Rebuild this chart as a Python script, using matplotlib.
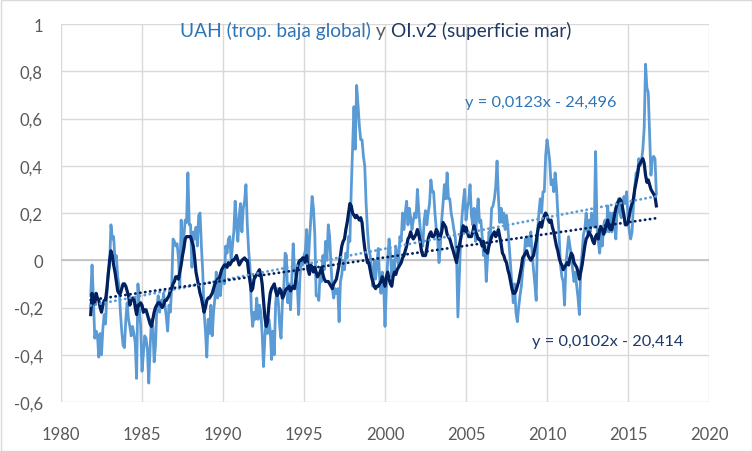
import numpy as np
import matplotlib
matplotlib.use('Agg')
import matplotlib.pyplot as plt
from matplotlib.ticker import FuncFormatter, MultipleLocator
from matplotlib.patches import Rectangle

plt.rcParams['font.family'] = ['Lato', 'DejaVu Sans']

# monthly anomalies, Nov 1981 .. Oct 2016
first_month = 1981 + 10 / 12

uah = [
    -0.15, -0.02,
    -0.16, -0.33, -0.30, -0.32, -0.41, -0.31, -0.40, -0.29, -0.23, -0.27, -0.14, -0.05,  # 1982
    -0.02, 0.15, 0.09, 0.10, 0.00, 0.02, -0.07, -0.11, -0.22, -0.30, -0.36, -0.37,  # 1983
    -0.25, -0.18, -0.25, -0.28, -0.32, -0.28, -0.31, -0.35, -0.50, -0.10, -0.20, -0.28,  # 1984
    -0.47, -0.40, -0.32, -0.33, -0.38, -0.52, -0.37, -0.25, -0.28, -0.43, -0.36, -0.20,  # 1985
    -0.15, -0.22, -0.17, -0.19, -0.14, -0.19, -0.24, -0.30, -0.19, -0.22, -0.11, 0.09,  # 1986
    0.08, 0.06, 0.07, 0.01, -0.11, 0.17, 0.02, 0.10, 0.17, 0.16, 0.37, 0.15,  # 1987
    0.15, -0.03, 0.12, 0.09, 0.14, 0.06, 0.19, 0.20, 0.06, -0.05, -0.22, -0.30,  # 1988
    -0.41, -0.25, -0.31, -0.19, -0.32, -0.22, -0.16, -0.05, -0.16, -0.09, -0.15, -0.08,  # 1989
    -0.03, -0.10, 0.06, 0.03, 0.09, 0.10, 0.00, 0.06, 0.12, 0.25, 0.15, 0.08,  # 1990
    0.19, 0.24, 0.12, 0.22, 0.25, 0.32, 0.15, 0.04, -0.03, -0.21, -0.28, -0.22,  # 1991
    -0.25, -0.16, -0.25, -0.19, -0.22, -0.31, -0.45, -0.33, -0.25, -0.31, -0.25, -0.30,  # 1992
    -0.42, -0.30, -0.40, -0.18, -0.12, -0.18, -0.28, -0.33, -0.18, -0.12, 0.03, 0.02,  # 1993
    -0.18, -0.10, -0.21, -0.08, 0.07, -0.04, -0.07, -0.10, -0.23, -0.07, -0.01, -0.02,  # 1994
    0.02, 0.04, 0.13, -0.04, 0.08, 0.17, 0.27, 0.22, 0.11, -0.15, -0.15, -0.17,  # 1995
    -0.04, -0.09, 0.02, -0.04, 0.08, 0.00, 0.15, 0.10, -0.02, -0.12, -0.16, -0.12,  # 1996
    -0.14, -0.12, -0.26, -0.09, -0.06, 0.00, -0.04, 0.03, 0.01, 0.10, 0.08, 0.30,  # 1997
    0.48, 0.65, 0.47, 0.74, 0.66, 0.57, 0.51, 0.51, 0.44, 0.40, 0.24, 0.13,  # 1998
    0.05, 0.02, -0.05, -0.11, 0.00, -0.08, -0.02, 0.05, -0.07, -0.14, -0.05, -0.10,  # 1999
    -0.28, -0.12, 0.00, 0.09, 0.03, -0.07, 0.00, -0.05, 0.06, 0.02, -0.02, 0.10,  # 2000
    0.08, 0.20, 0.13, 0.20, 0.25, 0.15, 0.22, 0.18, 0.13, 0.17, 0.20, 0.18,  # 2001
    0.30, 0.21, 0.14, 0.08, 0.06, 0.17, 0.21, 0.15, 0.20, 0.24, 0.34, 0.29,  # 2002
    0.29, 0.20, 0.13, 0.09, -0.01, 0.06, 0.17, 0.24, 0.32, 0.26, 0.37, 0.26,  # 2003
    0.26, 0.20, 0.17, 0.13, 0.10, 0.02, -0.24, -0.08, 0.08, 0.18, 0.25, 0.30,  # 2004
    0.17, 0.22, 0.25, 0.32, 0.19, 0.15, 0.22, 0.08, 0.19, 0.26, 0.16, 0.17,  # 2005
    0.10, 0.02, 0.06, -0.09, 0.01, 0.12, 0.10, 0.22, 0.23, 0.26, 0.31, 0.42,  # 2006
    0.27, 0.16, 0.22, 0.16, 0.20, 0.13, 0.19, 0.14, 0.06, -0.02, -0.10, -0.18,  # 2007
    -0.10, -0.22, -0.26, -0.20, -0.15, -0.11, -0.04, 0.00, 0.09, 0.06, 0.10, 0.06,  # 2008
    0.12, 0.03, -0.04, -0.10, -0.17, 0.12, 0.20, 0.26, 0.20, 0.29, 0.29, 0.44,  # 2009
    0.51, 0.47, 0.42, 0.32, 0.34, 0.29, 0.37, 0.31, 0.20, 0.10, -0.02, -0.07,  # 2010
    -0.09, -0.19, -0.02, 0.04, 0.10, 0.06, 0.02, -0.04, -0.09, -0.05, -0.11, -0.16,  # 2011
    -0.23, -0.03, 0.03, 0.11, 0.13, 0.20, 0.12, 0.17, 0.12, 0.20, 0.15, 0.14,  # 2012
    0.46, 0.15, 0.08, 0.03, 0.12, 0.06, 0.15, 0.17, 0.12, 0.23, 0.12, 0.20,  # 2013
    0.12, 0.20, 0.15, 0.09, 0.23, 0.26, 0.20, 0.18, 0.23, 0.27, 0.24, 0.29,  # 2014
    0.18, 0.12, 0.09, 0.12, 0.23, 0.31, 0.37, 0.36, 0.43, 0.40, 0.42, 0.47,  # 2015
    0.56, 0.83, 0.73, 0.71, 0.54, 0.36, 0.43, 0.44, 0.43, 0.28,  # 2016
]

oisst = [
    -0.23, -0.14,
    -0.17, -0.185, -0.14, -0.16, -0.17, -0.20, -0.22, -0.19, -0.17, -0.17, -0.12, -0.06,  # 1982
    0.00, 0.04, 0.02, -0.02, -0.05, -0.09, -0.13, -0.14, -0.14, -0.12, -0.10, -0.10,  # 1983
    -0.11, -0.13, -0.15, -0.19, -0.17, -0.16, -0.16, -0.20, -0.23, -0.19, -0.19, -0.18,  # 1984
    -0.19, -0.22, -0.21, -0.21, -0.23, -0.25, -0.27, -0.28, -0.25, -0.22, -0.20, -0.19,  # 1985
    -0.18, -0.18, -0.19, -0.20, -0.19, -0.17, -0.17, -0.16, -0.15, -0.13, -0.12, -0.10,  # 1986
    -0.09, -0.07, -0.07, -0.08, -0.05, -0.02, 0.02, 0.05, 0.09, 0.10, 0.10, 0.10,  # 1987
    0.10, 0.08, 0.06, 0.01, -0.05, -0.08, -0.11, -0.14, -0.16, -0.19, -0.22, -0.20,  # 1988
    -0.17, -0.16, -0.16, -0.15, -0.14, -0.12, -0.10, -0.09, -0.08, -0.08, -0.06, -0.04,  # 1989
    -0.03, -0.02, -0.02, -0.03, -0.01, -0.02, -0.01, 0.00, 0.00, 0.01, 0.02, 0.00,  # 1990
    -0.02, -0.01, 0.00, 0.005, 0.01, 0.00, 0.00, -0.05, -0.09, -0.13, -0.12, -0.08,  # 1991
    -0.07, -0.06, -0.05, -0.04, -0.06, -0.10, -0.17, -0.24, -0.28, -0.26, -0.19, -0.14,  # 1992
    -0.12, -0.11, -0.10, -0.13, -0.15, -0.14, -0.12, -0.13, -0.16, -0.15, -0.13, -0.12,  # 1993
    -0.12, -0.11, -0.13, -0.12, -0.11, -0.12, -0.08, -0.04, -0.01, 0.00, 0.00, 0.01,  # 1994
    0.01, -0.01, 0.02, -0.04, -0.06, -0.02, -0.03, -0.05, -0.03, -0.05, -0.07, -0.06,  # 1995
    -0.05, -0.03, -0.06, -0.08, -0.09, -0.09, -0.09, -0.10, -0.11, -0.12, -0.10, -0.09,  # 1996
    -0.08, -0.05, -0.02, 0.02, 0.06, 0.08, 0.09, 0.13, 0.16, 0.20, 0.24, 0.23,  # 1997
    0.20, 0.19, 0.18, 0.19, 0.18, 0.17, 0.18, 0.16, 0.10, 0.05, 0.02, -0.01,  # 1998
    -0.01, -0.04, -0.07, -0.09, -0.11, -0.12, -0.11, -0.11, -0.10, -0.09, -0.07, -0.09,  # 1999
    -0.11, -0.07, -0.05, -0.08, -0.10, -0.11, -0.07, -0.05, -0.06, -0.04, -0.03, -0.02,  # 2000
    -0.01, 0.01, 0.02, 0.04, 0.06, 0.09, 0.10, 0.12, 0.10, 0.09, 0.10, 0.11,  # 2001
    0.13, 0.11, 0.08, 0.04, 0.02, 0.02, 0.02, 0.05, 0.09, 0.11, 0.12, 0.10,  # 2002
    0.10, 0.11, 0.13, 0.12, 0.09, 0.10, 0.12, 0.16, 0.15, 0.14, 0.11, 0.10,  # 2003
    0.09, 0.07, 0.05, 0.03, 0.01, -0.01, 0.03, 0.06, 0.09, 0.12, 0.146, 0.12,  # 2004
    0.14, 0.12, 0.10, 0.10, 0.10, 0.12, 0.146, 0.12, 0.11, 0.09, 0.09, 0.08,  # 2005
    0.06, 0.08, 0.04, 0.04, 0.03, 0.06, 0.08, 0.10, 0.11, 0.12, 0.10, 0.11,  # 2006
    0.13, 0.10, 0.07, 0.03, 0.02, 0.00, -0.01, -0.04, -0.06, -0.09, -0.12, -0.14,  # 2007
    -0.14, -0.13, -0.11, -0.09, -0.06, -0.03, 0.01, 0.02, 0.03, 0.04, 0.02, 0.01,  # 2008
    0.00, 0.01, 0.02, 0.05, 0.08, 0.12, 0.15, 0.16, 0.14, 0.17, 0.19, 0.20,  # 2009
    0.19, 0.17, 0.16, 0.17, 0.14, 0.12, 0.09, 0.06, 0.04, 0.01, -0.01, -0.02,  # 2010
    -0.04, -0.03, -0.02, -0.01, -0.02, 0.01, 0.03, 0.02, -0.01, -0.02, -0.03, -0.05,  # 2011
    -0.08, -0.05, -0.02, 0.02, 0.06, 0.09, 0.10, 0.12, 0.11, 0.10, 0.08, 0.07,  # 2012
    0.10, 0.11, 0.09, 0.13, 0.14, 0.13, 0.11, 0.13, 0.15, 0.17, 0.14, 0.13,  # 2013
    0.13, 0.16, 0.19, 0.22, 0.24, 0.25, 0.26, 0.25, 0.22, 0.19, 0.15, 0.15,  # 2014
    0.16, 0.19, 0.22, 0.24, 0.26, 0.30, 0.33, 0.36, 0.40, 0.41, 0.42, 0.43,  # 2015
    0.41, 0.36, 0.33, 0.34, 0.32, 0.30, 0.29, 0.28, 0.27, 0.23,  # 2016
]

title_parts = [('UAH (trop. baja global)', '#2E75B6'),
               (' y ', '#595959'),
               ('OI.v2 (superficie mar)', '#1F3864')]
eq_uah = 'y = 0,0123x - 24,496'
eq_oi = 'y = 0,0102x - 20,414'

light = '#5B9BD5'
navy = '#002060'

years = first_month + np.arange(len(uah)) / 12

W, H = 752, 452
fig = plt.figure(figsize=(W / 100, H / 100), dpi=100)
ax = fig.add_axes([61 / W, 1 - 403 / H, 648 / W, 378 / H])

ax.plot(years, uah, color=light, lw=2.0, solid_joinstyle='round', zorder=3)
ax.plot(years, oisst, color=navy, lw=2.3, solid_joinstyle='round', zorder=4)

# linear trends
for series, col in [(uah, light), (oisst, navy)]:
    k, b = np.polyfit(years, series, 1)
    ax.plot(years[[0, -1]], k * years[[0, -1]] + b, color=col, lw=2.0,
            linestyle=(0, (0.1, 1.7)), dash_capstyle='round', zorder=5)

ax.set_xlim(1980, 2020)
ax.set_ylim(-0.6, 1)
ax.xaxis.set_major_locator(MultipleLocator(5))
ax.yaxis.set_major_locator(MultipleLocator(0.2))


def comma(v, pos):
    s = f'{v:.1f}'
    if s.endswith('.0'):
        s = s[:-2]
    if s == '-0':
        s = '0'
    return s.replace('.', ',')


ax.yaxis.set_major_formatter(FuncFormatter(comma))
ax.grid(color='#D9D9D9', lw=1)
ax.set_axisbelow(True)
ax.axhline(0, color='#BFBFBF', lw=1.2, zorder=1)
for s in ax.spines.values():
    s.set_visible(False)
ax.tick_params(length=0, labelsize=12, labelcolor='#595959')
ax.tick_params(axis='x', pad=17)
ax.tick_params(axis='y', pad=13)

# multi-coloured title
r = fig.canvas.get_renderer()
pieces = [fig.text(0, 0, t, color=c, fontsize=13.8) for t, c in title_parts]
widths = [p.get_window_extent(r).width for p in pieces]
x0 = 375.5 - sum(widths) / 2
for p, w in zip(pieces, widths):
    p.set_position((x0 / W, 1 - 31 / H))
    p.set_va('center')
    x0 += w

fig.text(465 / W, 1 - 103 / H, eq_uah, color='#2E75B6', fontsize=11.8, va='center')
fig.text(532 / W, 1 - 342 / H, eq_oi, color='#1F3864', fontsize=11.8, va='center')

fig.patches.append(Rectangle((0.5 / W, 0.5 / H), 1 - 1 / W, 1 - 1 / H,
                             transform=fig.transFigure, fill=False,
                             ec='#D9D9D9', lw=1))

fig.savefig('out.png', dpi=100)
